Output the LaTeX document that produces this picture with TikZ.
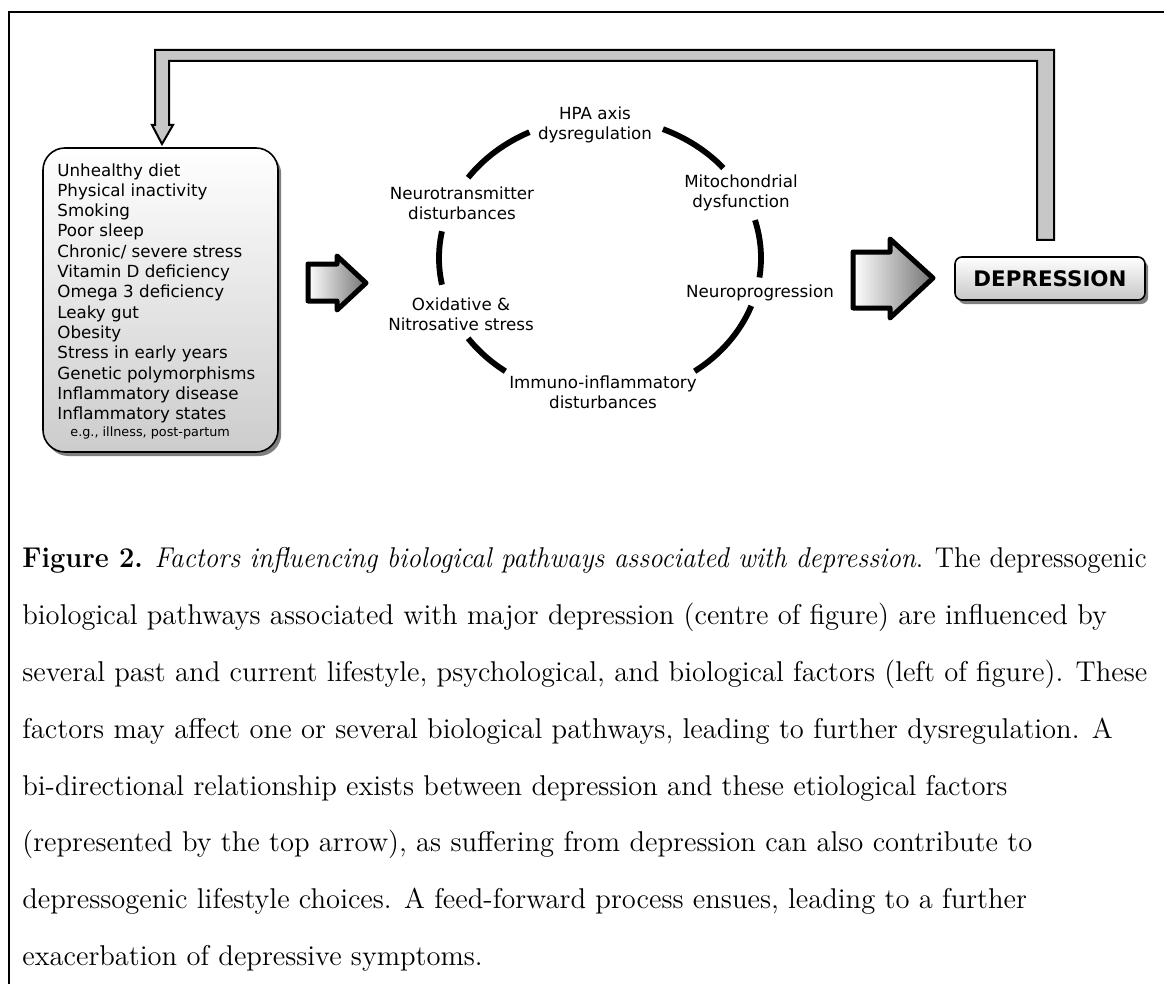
\documentclass[tikz,border=0pt]{standalone}
\usepackage{fontspec}
\newfontfamily\dv{DejaVu Sans}
\usetikzlibrary{shadows,shapes.misc}
\begin{document}
\begin{tikzpicture}[x=0.5pt,y=-0.5pt,
  lbl/.style={font=\dv\fontsize{8.35}{10.15}\selectfont, align=center, inner sep=0pt},
  ring/.style={line width=2.9pt},
  fat/.style={draw=black, line width=2.5pt, line join=round, left color=white, right color=black!55},
  captxt/.style={font=\fontsize{14.3}{17}\selectfont, anchor=base west, inner sep=0pt}
]
\useasboundingbox (0,0) rectangle (1166,984);
% frame
\draw[line width=1pt] (9,984) -- (9,12) -- (1164,12);

% factors box
\node[draw, line width=0.8pt, rounded corners=11pt, minimum width=117.5pt, minimum height=152pt,
      top color=white, bottom color=black!20,
      drop shadow={shadow xshift=1.6pt, shadow yshift=-2pt, fill=black, opacity=0.5}] (factors) at (160.5,300) {};
\node[font=\dv\fontsize{8.35}{10.15}\selectfont, align=left, inner sep=0pt, anchor=north west] (factorlist) at (57,163)
 {Unhealthy diet\\Physical inactivity\\Smoking\\Poor sleep\\Chronic/ severe stress\\Vitamin D deficiency\\Omega 3 deficiency\\Leaky gut\\Obesity\\Stress in early years\\Genetic polymorphisms\\Inflammatory disease\\Inflammatory states};
\node[font=\dv\fontsize{6.4}{8}\selectfont, inner sep=0pt, anchor=base west] (eg) at (70,436) {e.g., illness, post-partum};

% depression box
\node[draw, line width=0.8pt, rounded corners=3.5pt, minimum width=95pt, minimum height=21.5pt,
      top color=white, bottom color=black!22,
      drop shadow={shadow xshift=1.6pt, shadow yshift=-2pt, fill=black, opacity=0.5},
      font=\dv\bfseries\fontsize{10.7}{12}\selectfont] (dep) at (1050,278.5) {DEPRESSION};

% feedback arrow
\coordinate (fbtip) at (162,144);
\coordinate (fbstart) at (1045.5,240);
\filldraw[fill=black!22, line width=1pt, line join=miter]
  (fbtip) -- (173,125) -- (169,125) -- (169,61) -- (1037,61) -- (1037,240) -- (1054,240)
  -- (1054,50) -- (155,50) -- (155,125) -- (152,125) -- cycle;

% big arrow
\filldraw[fat] (853,252) -- (890,252) -- (890,239) -- (933,278) -- (890,318) -- (890,308) -- (853,308) -- cycle;
% small arrow
\filldraw[fat] (308,264) -- (337,264) -- (337,256) -- (366,283) -- (337,310) -- (337,301) -- (308,301) -- cycle;

% ring labels
\node[lbl] (hpa) at (595,125) {HPA axis\\dysregulation};
\node[lbl] (neurot) at (462,203) {Neurotransmitter\\disturbances};
\node[lbl] (mito) at (741,193) {Mitochondrial\\dysfunction};
\node[lbl] (neurop) at (760,293) {Neuroprogression};
\node[lbl] (oxid) at (461,314) {Oxidative \&\\Nitrosative stress};
\node[lbl] (immuno) at (603,392) {Immuno-inflammatory\\disturbances};

% ring arcs (angles measured with y pointing down)
\foreach \a/\b in {-116/-145, -169/-191, -215/-234, 20/54, -15.7/8, -40/-67}{
  \draw[ring] ([shift={(\a:161 and 140)}]600,258) arc[start angle=\a, end angle=\b, x radius=161, y radius=140];
}

% caption
\node[captxt] (c1) at (22,567) {\scalebox{0.95}[1]{\textbf{Figure 2.} \textit{Factors influencing biological pathways associated with depression}. The depressogenic}};
\node[captxt] (c2) at (22,624) {biological pathways associated with major depression (centre of figure) are influenced by};
\node[captxt] (c3) at (22,681) {several past and current lifestyle, psychological, and biological factors (left of figure). These};
\node[captxt] (c4) at (22,738) {factors may affect one or several biological pathways, leading to further dysregulation. A};
\node[captxt] (c5) at (22,795) {bi-directional relationship exists between depression and these etiological factors};
\node[captxt] (c6) at (22,851) {(represented by the top arrow), as suffering from depression can also contribute to};
\node[captxt] (c7) at (22,908) {depressogenic lifestyle choices. A feed-forward process ensues, leading to a further};
\node[captxt] (c8) at (22,965) {exacerbation of depressive symptoms.};
\end{tikzpicture}
\end{document}
